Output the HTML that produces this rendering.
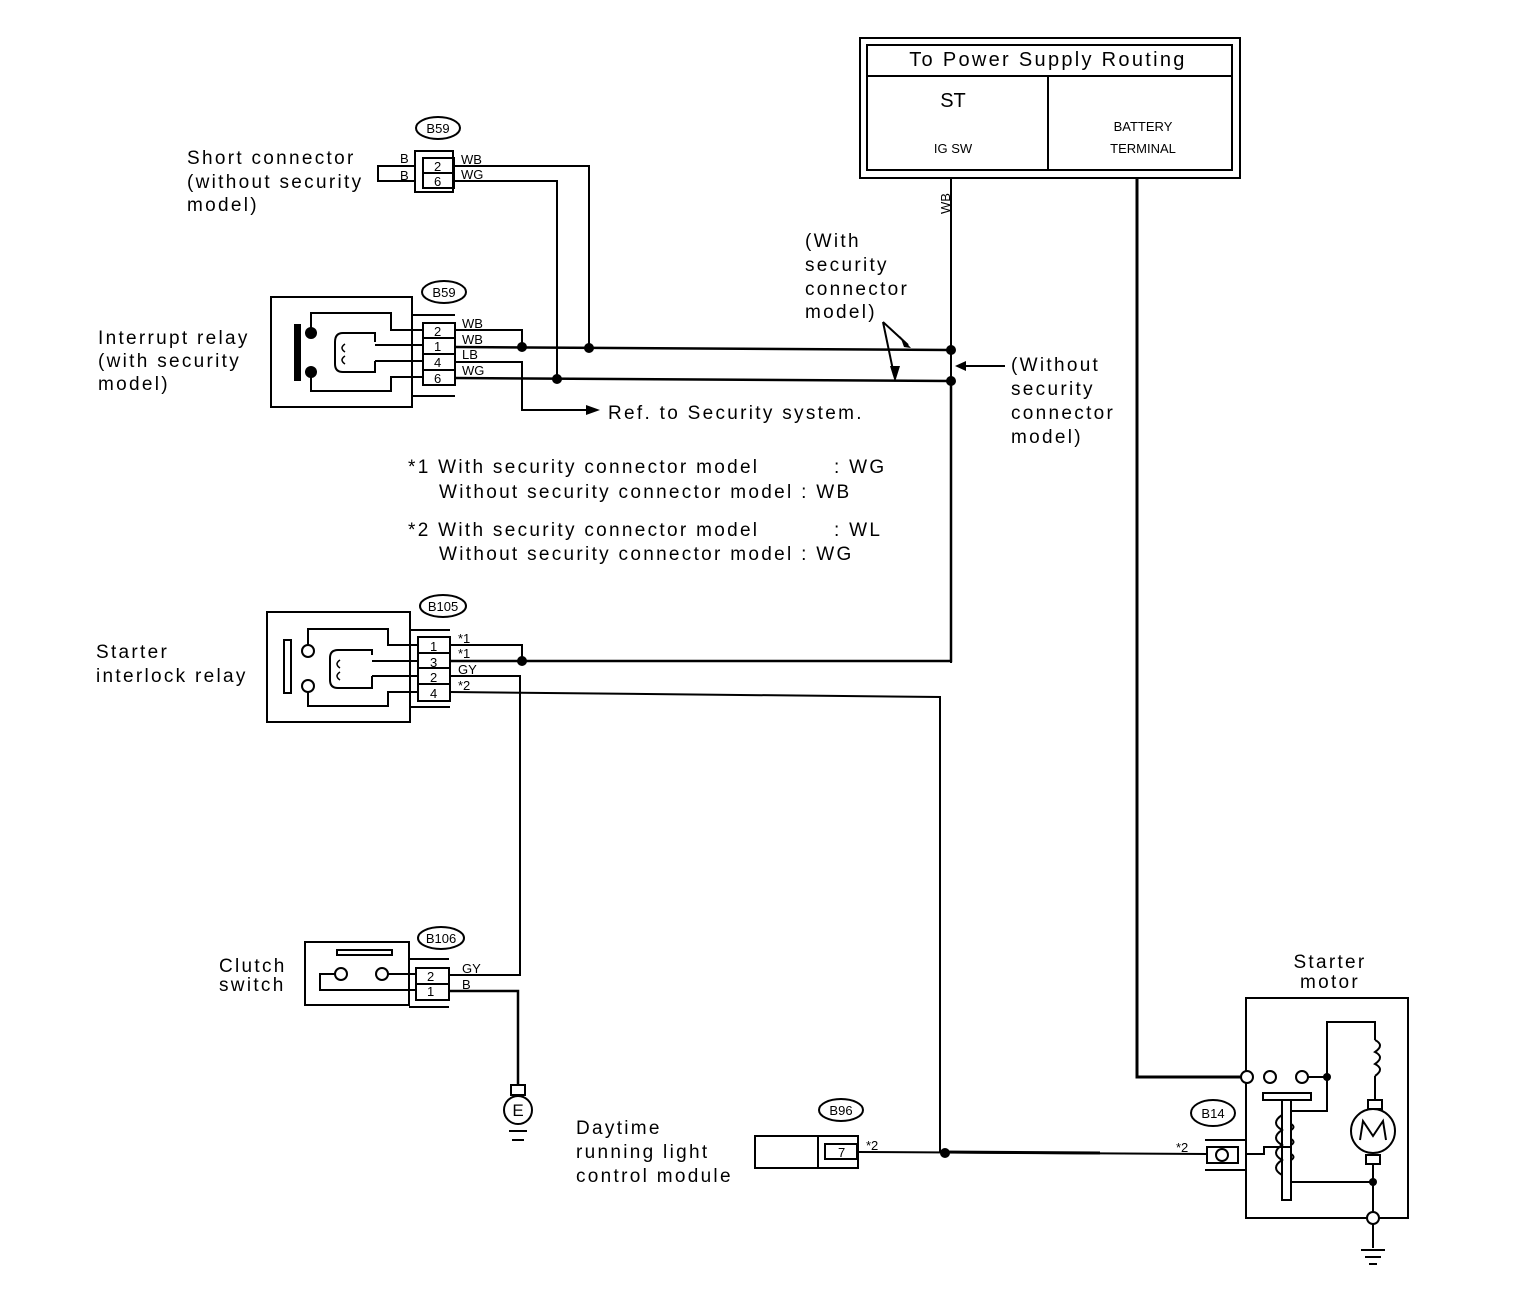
<!DOCTYPE html>
<html><head><meta charset="utf-8"><style>
html,body{margin:0;padding:0;background:#fff;}
svg{display:block;}
text{font-family:"Liberation Sans",sans-serif;fill:#000;}
.l{font-size:19px;letter-spacing:2.3px;}
.s{font-size:13px;}
</style></head><body>
<svg width="1520" height="1308" viewBox="0 0 1520 1308" xmlns="http://www.w3.org/2000/svg">
<g fill="none" stroke="#000" stroke-width="2">
<rect x="860" y="38" width="380" height="140"/>
<rect x="867" y="45" width="365" height="125"/>
<line x1="867" y1="76" x2="1232" y2="76"/>
<line x1="1048" y1="76" x2="1048" y2="170"/>
<line x1="951" y1="178" x2="951" y2="663"/>
<polyline points="1137,178 1137,1077 1241,1077" stroke-width="3"/>

<rect x="415" y="151" width="38" height="41"/>
<rect x="423" y="158" width="31" height="15"/>
<rect x="423" y="173" width="31" height="15"/>
<polyline points="415,166 378,166 378,181 415,181"/>
<polyline points="454,166 589,166 589,347"/>
<polyline points="454,181 557,181 557,379"/>

<rect x="271" y="297" width="141" height="110"/>
<line x1="412" y1="315" x2="455" y2="315"/>
<line x1="412" y1="396" x2="455" y2="396"/>
<rect x="423" y="323" width="32" height="62"/>
<line x1="423" y1="338" x2="455" y2="338"/>
<line x1="423" y1="354" x2="455" y2="354"/>
<line x1="423" y1="370" x2="455" y2="370"/>
<polyline points="311,333 311,313 391,313 391,330 423,330"/>
<polyline points="311,372 311,391 391,391 391,377 423,377"/>
<path d="M375,342 L375,333 L343,333 Q335,333 335,342 L335,364 Q335,372 343,372 L375,372 L375,361"/>
<line x1="375" y1="345" x2="423" y2="345"/>
<line x1="375" y1="361" x2="423" y2="361"/>
<path d="M345,344 q-6,4 0,8 M345,356 q-6,4 0,8" stroke-width="1.5"/>
<polyline points="455,330 522,330 522,347"/>
<line x1="455" y1="347" x2="951" y2="350" stroke-width="2.5"/>
<polyline points="455,362 522,362 522,410 590,410"/>
<line x1="455" y1="378" x2="951" y2="381" stroke-width="2.5"/>
<line x1="883" y1="322" x2="908" y2="345"/>
<line x1="883" y1="322" x2="894" y2="375"/>
<line x1="960" y1="366" x2="1005" y2="366"/>

<rect x="267" y="612" width="143" height="110"/>
<line x1="410" y1="630" x2="450" y2="630"/>
<line x1="410" y1="707" x2="450" y2="707"/>
<rect x="418" y="637" width="32" height="64"/>
<line x1="418" y1="653" x2="450" y2="653"/>
<line x1="418" y1="668" x2="450" y2="668"/>
<line x1="418" y1="684" x2="450" y2="684"/>
<rect x="284" y="640" width="7" height="53"/>
<circle cx="308" cy="651" r="6"/>
<circle cx="308" cy="686" r="6"/>
<polyline points="308,645 308,629 388,629 388,645 418,645"/>
<polyline points="308,692 308,706 388,706 388,692 418,692"/>
<path d="M372,655 L372,650 L338,650 Q330,650 330,658 L330,680 Q330,688 338,688 L372,688 L372,676"/>
<path d="M340,660 q-6,4 0,8 M340,672 q-6,4 0,8" stroke-width="1.5"/>
<line x1="372" y1="661" x2="418" y2="661"/>
<line x1="372" y1="676" x2="418" y2="676"/>
<polyline points="450,645 522,645 522,661"/>
<polyline points="450,661 951,661 951,381" stroke-width="2.5"/>
<polyline points="450,676 520,676 520,975 450,975"/>
<polyline points="450,692 940,697 940,1152"/>

<rect x="305" y="942" width="104" height="63"/>
<line x1="409" y1="959" x2="449" y2="959"/>
<line x1="409" y1="1007" x2="449" y2="1007"/>
<rect x="416" y="968" width="33" height="32"/>
<line x1="416" y1="984" x2="449" y2="984"/>
<rect x="337" y="950" width="55" height="5"/>
<circle cx="341" cy="974" r="6"/>
<circle cx="382" cy="974" r="6"/>
<polyline points="335,974 320,974 320,990 416,990"/>
<line x1="388" y1="974" x2="416" y2="974"/>
<polyline points="449,991 518,991 518,1085" stroke-width="2.5"/>
<rect x="511" y="1085" width="14" height="10"/>
<circle cx="518" cy="1110" r="14"/>
<line x1="509" y1="1131" x2="527" y2="1131"/>
<line x1="512" y1="1140" x2="524" y2="1140"/>

<rect x="755" y="1136" width="103" height="32"/>
<line x1="818" y1="1136" x2="818" y2="1168"/>
<rect x="825" y="1144" width="32" height="15"/>
<line x1="858" y1="1152" x2="1207" y2="1154"/>
<line x1="940" y1="1152" x2="1100" y2="1153" stroke-width="3"/>

<rect x="1246" y="998" width="162" height="220"/>
<line x1="1205" y1="1140" x2="1246" y2="1140"/>
<line x1="1205" y1="1170" x2="1246" y2="1170"/>
<rect x="1207" y="1147" width="31" height="16"/>
<ellipse cx="1222" cy="1155" rx="6" ry="6"/>
<circle cx="1247" cy="1077" r="6" fill="#fff"/>
<circle cx="1270" cy="1077" r="6"/>
<circle cx="1302" cy="1077" r="6"/>
<line x1="1308" y1="1077" x2="1327" y2="1077"/>
<polyline points="1327,1077 1327,1022 1375,1022 1375,1040"/>
<path d="M1375,1040 q10,5 0,12 q10,5 0,12 q10,5 0,12"/>
<line x1="1375" y1="1076" x2="1375" y2="1100"/>
<rect x="1368" y="1100" width="14" height="9"/>
<circle cx="1373" cy="1131" r="22"/>
<polyline points="1360,1140 1363,1121 1373,1136 1383,1121 1386,1140"/>
<rect x="1366" y="1155" width="14" height="9"/>
<line x1="1373" y1="1164" x2="1373" y2="1212"/>
<circle cx="1373" cy="1218" r="6" fill="#fff"/>
<line x1="1373" y1="1224" x2="1373" y2="1248"/>
<line x1="1361" y1="1250" x2="1385" y2="1250"/>
<line x1="1365" y1="1257" x2="1381" y2="1257"/>
<line x1="1369" y1="1264" x2="1377" y2="1264"/>
<polyline points="1327,1077 1327,1111 1292,1111"/>
<rect x="1263" y="1093" width="48" height="7"/>
<rect x="1282" y="1100" width="9" height="100"/>
<path d="M1282,1115 q-12,8 0,15 q-12,8 0,15 q-12,8 0,15 q-12,8 0,15 M1291,1130 q5,-3 0,-6 M1291,1145 q5,-3 0,-6 M1291,1160 q5,-3 0,-6"/>
<polyline points="1246,1154 1264,1154 1264,1147 1292,1147"/>
<line x1="1291" y1="1182" x2="1373" y2="1182"/>

<ellipse cx="438" cy="128" rx="22" ry="11"/>
<ellipse cx="444" cy="292" rx="22" ry="11"/>
<ellipse cx="443" cy="606" rx="23" ry="11"/>
<ellipse cx="441" cy="938" rx="23" ry="11"/>
<ellipse cx="841" cy="1110" rx="22" ry="11"/>
<ellipse cx="1213" cy="1113" rx="22" ry="13"/>
</g>
<g fill="#000">
<rect x="294" y="324" width="7" height="57"/>
<circle cx="311" cy="333" r="6"/><circle cx="311" cy="372" r="6"/>
<circle cx="522" cy="347" r="5"/><circle cx="589" cy="348" r="5"/><circle cx="557" cy="379" r="5"/>
<circle cx="951" cy="350" r="5"/><circle cx="951" cy="381" r="5"/>
<circle cx="522" cy="661" r="5"/><circle cx="945" cy="1153" r="5"/>
<circle cx="1327" cy="1077" r="4"/><circle cx="1373" cy="1182" r="4"/>
<polygon points="911,348 900,336 904,347"/>
<polygon points="895,382 890,366 900,366"/>
<polygon points="955,366 966,361 966,371"/>
<polygon points="600,410 586,405 586,415"/>
</g>
<text x="1048" y="66" text-anchor="middle" class="l" style="font-size:20px">To Power Supply Routing</text>
<text x="953" y="107" font-size="20" text-anchor="middle">ST</text>
<text x="953" y="153" font-size="13" text-anchor="middle">IG SW</text>
<text x="1143" y="131" font-size="13" text-anchor="middle">BATTERY</text>
<text x="1143" y="153" font-size="13" text-anchor="middle">TERMINAL</text>
<text x="0" y="0" class="s" transform="translate(950,214) rotate(-90)">WB</text>

<text class="l" x="187" y="164">Short connector</text>
<text class="l" x="187" y="188">(without security</text>
<text class="l" x="187" y="211">model)</text>
<text class="s" x="400" y="163">B</text><text class="s" x="400" y="180">B</text>
<text class="s" x="434" y="171">2</text><text class="s" x="434" y="186">6</text>
<text class="s" x="461" y="164">WB</text><text class="s" x="461" y="179">WG</text>
<text class="s" x="438" y="133" text-anchor="middle">B59</text>

<text class="l" x="98" y="344">Interrupt relay</text>
<text class="l" x="98" y="367">(with security</text>
<text class="l" x="98" y="390">model)</text>
<text class="s" x="444" y="297" text-anchor="middle">B59</text>
<text class="s" x="434" y="336">2</text><text class="s" x="434" y="351">1</text><text class="s" x="434" y="367">4</text><text class="s" x="434" y="383">6</text>
<text class="s" x="462" y="328">WB</text><text class="s" x="462" y="344">WB</text><text class="s" x="462" y="359">LB</text><text class="s" x="462" y="375">WG</text>
<text class="l" x="608" y="419">Ref. to Security system.</text>
<text class="l" x="805" y="247">(With</text>
<text class="l" x="805" y="271">security</text>
<text class="l" x="805" y="295">connector</text>
<text class="l" x="805" y="318">model)</text>
<text class="l" x="1011" y="371">(Without</text>
<text class="l" x="1011" y="395">security</text>
<text class="l" x="1011" y="419">connector</text>
<text class="l" x="1011" y="443">model)</text>

<text class="l" x="408" y="473">*1 With security connector model</text><text class="l" x="834" y="473">: WG</text>
<text class="l" x="439" y="498">Without security connector model : WB</text>
<text class="l" x="408" y="536">*2 With security connector model</text><text class="l" x="834" y="536">: WL</text>
<text class="l" x="439" y="560">Without security connector model : WG</text>

<text class="l" x="96" y="658">Starter</text>
<text class="l" x="96" y="682">interlock relay</text>
<text class="s" x="443" y="611" text-anchor="middle">B105</text>
<text class="s" x="430" y="651">1</text><text class="s" x="430" y="667">3</text><text class="s" x="430" y="682">2</text><text class="s" x="430" y="698">4</text>
<text class="s" x="458" y="643">*1</text><text class="s" x="458" y="658">*1</text><text class="s" x="458" y="674">GY</text><text class="s" x="458" y="690">*2</text>

<text class="l" x="219" y="972">Clutch</text>
<text class="l" x="219" y="991">switch</text>
<text class="s" x="441" y="943" text-anchor="middle">B106</text>
<text class="s" x="427" y="981">2</text><text class="s" x="427" y="996">1</text>
<text class="s" x="462" y="973">GY</text><text class="s" x="462" y="989">B</text>
<text x="518" y="1116" font-size="17" text-anchor="middle">E</text>

<text class="l" x="576" y="1134">Daytime</text>
<text class="l" x="576" y="1158">running light</text>
<text class="l" x="576" y="1182">control module</text>
<text class="s" x="841" y="1115" text-anchor="middle">B96</text>
<text class="s" x="838" y="1157">7</text>
<text class="s" x="866" y="1150">*2</text>
<text class="s" x="1176" y="1152">*2</text>
<text class="s" x="1213" y="1118" text-anchor="middle">B14</text>
<text class="l" x="1330" y="968" text-anchor="middle">Starter</text>
<text class="l" x="1330" y="988" text-anchor="middle">motor</text>
</svg>
</body></html>
